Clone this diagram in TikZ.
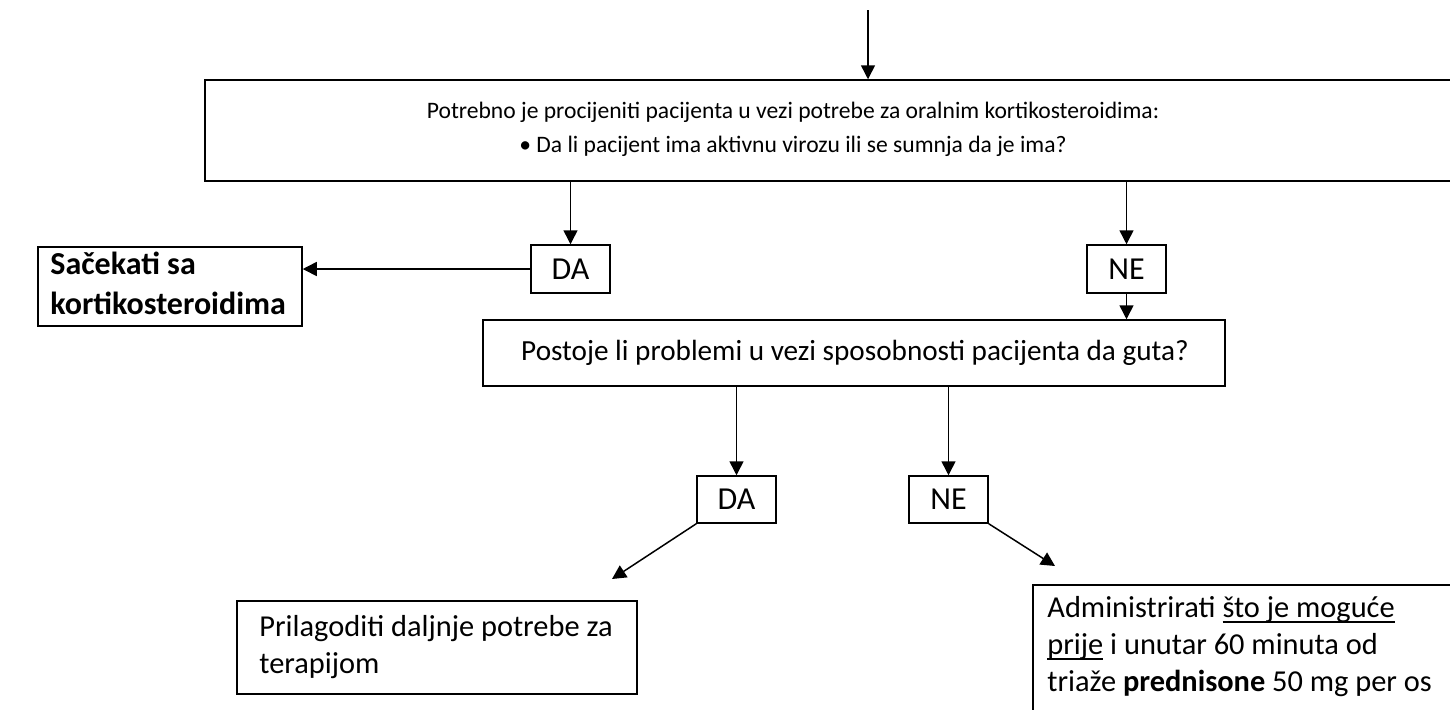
\documentclass[tikz,border=0pt]{standalone}
\usepackage{fontspec}
\setmainfont{Carlito}
\usetikzlibrary{arrows.meta,fit}
\newcommand\myul[1]{\setbox0\hbox{#1}\rlap{\rule[-2.6pt]{\wd0}{0.9pt}}\box0\relax}
\tikzset{
  px/.style={x=0.5pt,y=-0.5pt},
  frame/.style={draw,line width=0.75pt,inner sep=0pt},
  txt/.style={inner sep=0pt,font=\fontsize{15.2pt}{18.6pt}\selectfont},
  yn/.style={inner sep=0pt,font=\fontsize{16pt}{18pt}\selectfont},
  arr/.style={line width=0.75pt,-{Triangle[length=7pt,width=7pt]}},
}
\begin{document}
\begin{tikzpicture}[px]
\clip (0,0) rectangle (1450,709);
\fill[white] (0,0) rectangle (1450,709);
% boxes
\node[frame,fit={(205,80) (1470,181)}] (topbox) {};
\node[txt,align=center,font=\fontsize{11.8pt}{17pt}\selectfont] (toptext) at (793,129) {Potrebno je procijeniti pacijenta u vezi potrebe za oralnim kortikosteroidima:\\ • Da li pacijent ima aktivnu virozu ili se sumnja da je ima?};
\node[frame,fit={(531,245) (610,293)}] (da1) {};
\node[yn] (da1t) at (da1.center) {DA};
\node[frame,fit={(1087,245) (1166,293)}] (ne1) {};
\node[yn] (ne1t) at (ne1.center) {NE};
\node[frame,fit={(38,247) (302,326)}] (wait) {};
\node[txt,anchor=west,align=left,font=\fontsize{16pt}{20pt}\selectfont\bfseries] (waitt) at (50,283) {Sačekati sa\\kortikosteroidima};
\node[frame,fit={(483,320) (1225,386)}] (box2) {};
\node[txt,font=\fontsize{14.6pt}{18pt}\selectfont] (box2t) at (855,353) {Postoje li problemi u vezi sposobnosti pacijenta da guta?};
\node[frame,fit={(697,476) (776,523)}] (da2) {};
\node[yn] (da2t) at (da2.center) {DA};
\node[frame,fit={(909,476) (988,523)}] (ne2) {};
\node[yn] (ne2t) at (ne2.center) {NE};
\node[frame,fit={(237,601) (637,694)}] (adj) {};
\node[txt,anchor=west,align=left] (adjt) at (259,647) {Prilagoditi daljnje potrebe za\\terapijom};
\node[frame,fit={(1033,585) (1470,730)}] (adm) {};
\node[txt,anchor=north west,align=left] (admt) at (1047,596) {Administrirati \myul{što je moguće}\\\myul{prije} i unutar 60 minuta od\\triaže \textbf{prednisone} 50 mg per os};
% connectors
\coordinate (start) at (868,10);
\coordinate (tipA) at (612,579);
\coordinate (tipB) at (1055,566);
\draw[arr] (start) -- (start |- topbox.north);
\draw[arr] (topbox.south -| da1.north) -- (da1.north);
\draw[arr] (topbox.south -| ne1.north) -- (ne1.north);
\draw[arr] (da1.west) -- (wait.east |- da1.west);
\draw[arr] (ne1.south) -- (box2.north -| ne1.south);
\draw[arr] (box2.south -| da2.north) -- (da2.north);
\draw[arr] (box2.south -| ne2.north) -- (ne2.north);
\draw[arr] (da2.south west) -- (tipA);
\draw[arr] (ne2.south east) -- (tipB);
\end{tikzpicture}
\end{document}
